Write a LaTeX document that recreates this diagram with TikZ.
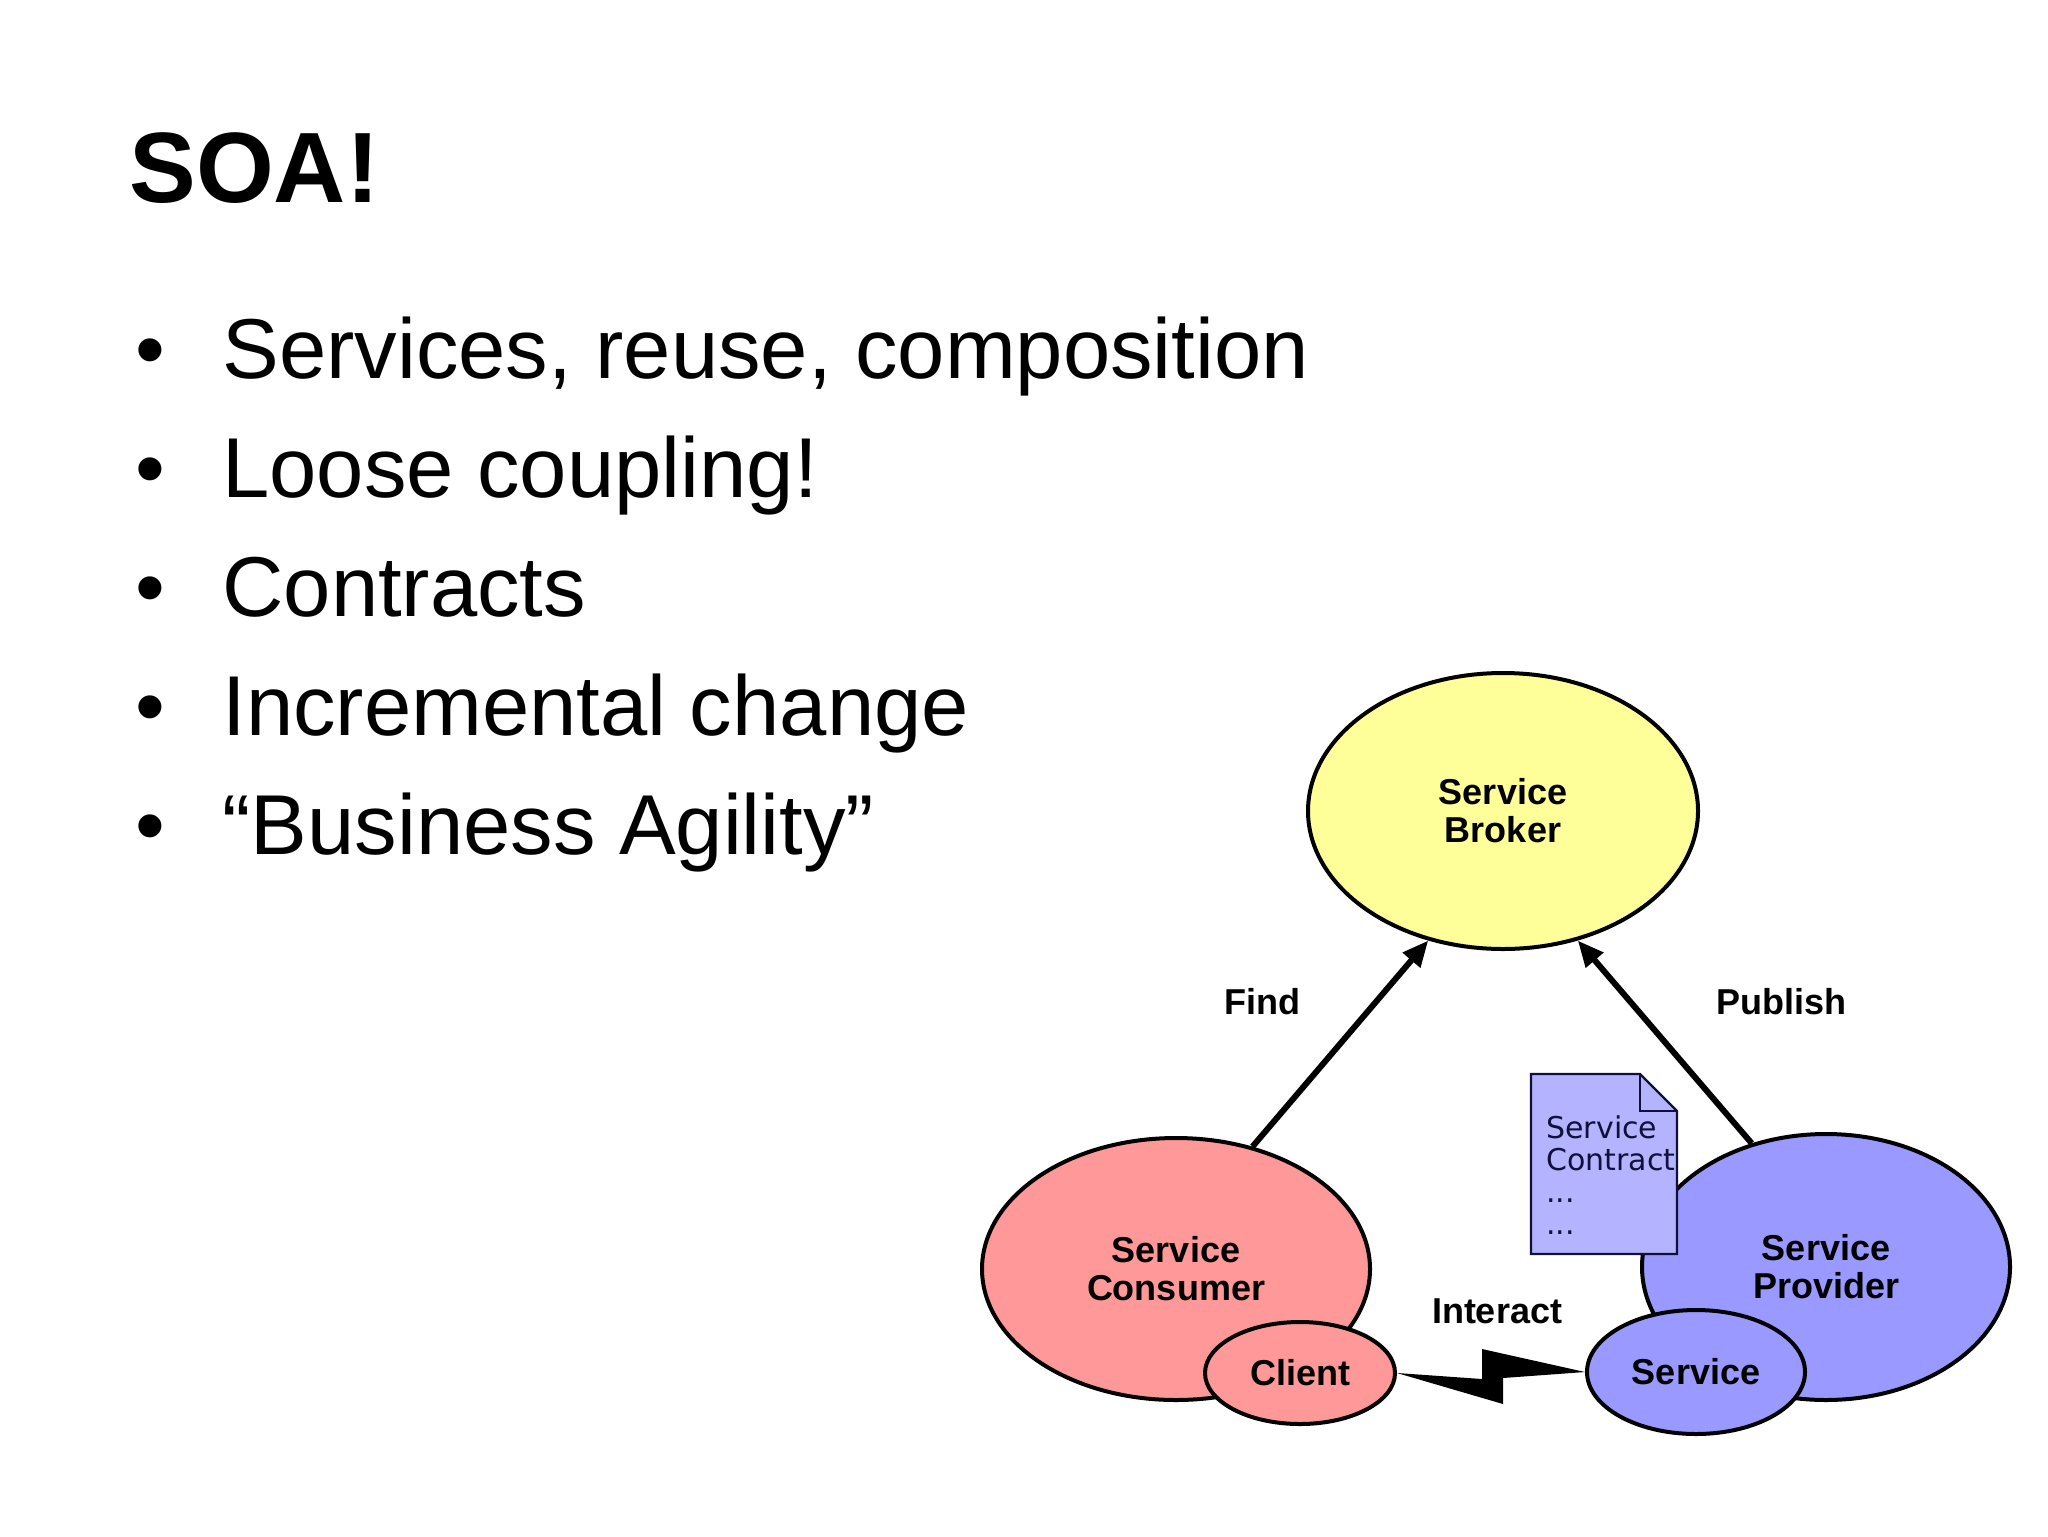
\documentclass[tikz,border=0pt]{standalone}
\usepackage{fontspec}
\setmainfont{Liberation Sans}
\newfontfamily\docfont{DejaVu Sans}
\usetikzlibrary{shapes.geometric, arrows.meta}
\definecolor{brokeryellow}{HTML}{FFFF99}
\definecolor{consumerred}{HTML}{FF9999}
\definecolor{providerblue}{HTML}{9999FF}
\definecolor{contractblue}{HTML}{B3B3FF}
\definecolor{contractink}{HTML}{101038}
\tikzstyle{slidetitle} = [anchor=base west,inner sep=0,font=\bfseries\fontsize{50}{60}\selectfont]
\tikzstyle{item} = [anchor=base west,inner sep=0,font=\fontsize{42.5}{51}\selectfont]
\tikzstyle{bulletdot} = [anchor=base,inner sep=0,font=\fontsize{42.5}{51}\selectfont]
\tikzstyle{party} = [ellipse,draw,line width=2pt,inner sep=0,align=center,font=\bfseries\fontsize{18}{19}\selectfont]
\tikzstyle{flowlabel} = [inner sep=0,font=\bfseries\fontsize{18}{19}\selectfont]
\tikzstyle{flow} = [->,line width=3pt]

\begin{document}
\begin{tikzpicture}[x=0.5pt,y=-0.5pt,>={Triangle[length=13pt,width=11pt]}]
\useasboundingbox (0,0) rectangle (2048,1536);

\node[slidetitle](soa) at (129,202){SOA!};
\node[bulletdot](d1) at (150,378){•};
\node[item](i1) at (222,378){Services, reuse, composition};
\node[bulletdot](d2) at (150,497){•};
\node[item](i2) at (222,497){Loose coupling!};
\node[bulletdot](d3) at (150,616){•};
\node[item](i3) at (222,616){Contracts};
\node[bulletdot](d4) at (150,735){•};
\node[item](i4) at (222,735){Incremental change};
\node[bulletdot](d5) at (150,854){•};
\node[item](i5) at (222,854){“Business Agility”};

\node[party,fill=brokeryellow,minimum width=195pt,minimum height=138pt](broker) at (1503,811){Service\\Broker};
\node[party,fill=consumerred,minimum width=194pt,minimum height=131pt](consumer) at (1176,1269){Service\\Consumer};
\node[party,fill=consumerred,minimum width=95pt,minimum height=51pt](client) at (1300,1373){Client};
\node[party,fill=providerblue,minimum width=184pt,minimum height=133pt](provider) at (1826,1267){Service\\Provider};
\node[party,fill=providerblue,minimum width=109pt,minimum height=62pt](service) at (1696,1372){Service};

\draw[contractink,line width=1.2pt,fill=contractblue](1531,1074)--(1640,1074)--(1677,1111)--(1677,1254)--(1531,1254)--cycle;
\draw[contractink,line width=1.2pt](1640,1074)--(1640,1111)--(1677,1111);
\node[anchor=north west,align=left,inner sep=0,text=contractink,font=\docfont\fontsize{15}{16}\selectfont](contract) at (1546,1115){Service\\Contract\\...\\...};

\node[flowlabel](find) at (1262,1002){Find};
\node[flowlabel](publish) at (1781,1002){Publish};
\node[flowlabel](interact) at (1497,1311){Interact};

\draw[flow](consumer.58)--(broker.240);
\draw[flow](provider.121)--(broker.300);
\fill(client.east)--++(85,6)--++(0,-30)--(service.west)--++(-82,6)--++(0,26)--cycle;

\end{tikzpicture}
\end{document}
